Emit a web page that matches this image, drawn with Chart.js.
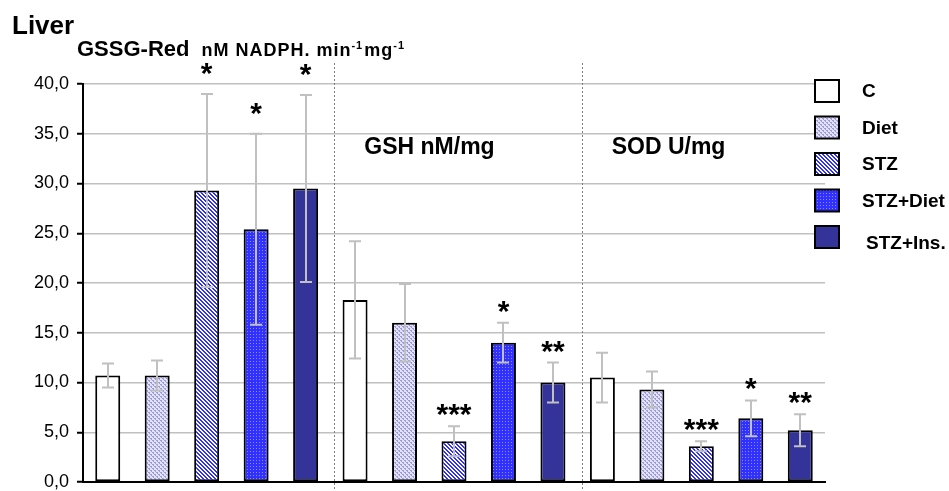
<!DOCTYPE html>
<html>
<head>
<meta charset="utf-8">
<script src="https://cdn.jsdelivr.net/npm/chart.js@4.4.1/dist/chart.umd.min.js"></script>
<style>
  html, body { margin: 0; padding: 0; background: #fff; }
  #wrap { width: 949px; height: 491px; position: relative; }
</style>
</head>
<body>
<div id="wrap"><canvas id="c"></canvas></div>
<script>
// ---- data ----
const categories = ['GSSG-Red', 'GSH', 'SOD'];
const seriesNames = ['C', 'Diet', 'STZ', 'STZ+Diet', 'STZ+Ins.'];

const valuesC       = [10.7, 18.3, 10.5];
const valuesDiet    = [10.7, 16.0, 9.3];
const valuesSTZ     = [29.3, 4.1, 3.6];
const valuesSTZDiet = [25.4, 14.0, 6.4];
const valuesSTZIns  = [29.5, 10.0, 5.2];

const errC       = [1.2, 5.9, 2.5];
const errDiet    = [1.5, 3.9, 1.8];
const errSTZ     = [9.7, 1.5, 0.5];
const errSTZDiet = [9.6, 2.0, 1.8];
const errSTZIns  = [9.4, 2.0, 1.6];

const starsC       = ['', '', ''];
const starsDiet    = ['', '', ''];
const starsSTZ     = ['*', '***', '***'];
const starsSTZDiet = ['*', '*', '*'];
const starsSTZIns  = ['*', '**', '**'];

const yMin = 0, yMax = 40, yStep = 5;

const chartTitle = 'Liver';
const groupTitles = ['GSSG-Red', 'GSH nM/mg', 'SOD U/mg'];
const firstGroupUnit = ['nM NADPH. min', '-1', 'mg', '-1'];

// ---- patterns ----
function makePattern(size, painter) {
  const cv = document.createElement('canvas');
  cv.width = size; cv.height = size;
  const g = cv.getContext('2d');
  painter(g, size);
  return document.getElementById('c').getContext('2d').createPattern(cv, 'repeat');
}
const fillC = '#ffffff';
const fillDiet = makePattern(4, (g) => {
  g.fillStyle = '#e2e2f8'; g.fillRect(0, 0, 4, 4);
  g.fillStyle = '#9a9adc';
  g.fillRect(0, 0, 2, 1); g.fillRect(2, 2, 2, 1);
  g.fillRect(1, 1, 1, 1); g.fillRect(3, 3, 1, 1);
});
const fillSTZ = makePattern(4, (g) => {
  g.fillStyle = '#ffffff'; g.fillRect(0, 0, 4, 4);
  g.fillStyle = '#2e2eff';
  for (let x = 0; x < 4; x++) for (let y = 0; y < 4; y++) {
    if (((x - y) % 4 + 4) % 4 < 2) g.fillRect(x, y, 1, 1);
  }
});
const fillSTZDiet = makePattern(3, (g) => {
  g.fillStyle = '#3030ff'; g.fillRect(0, 0, 3, 3);
  g.fillStyle = '#8c8cff'; g.fillRect(1, 1, 1, 1);
});
const fillSTZIns = '#333399';

const fills = [fillC, fillDiet, fillSTZ, fillSTZDiet, fillSTZIns];
const valueSets = [valuesC, valuesDiet, valuesSTZ, valuesSTZDiet, valuesSTZIns];
const errSets = [errC, errDiet, errSTZ, errSTZDiet, errSTZIns];
const starSets = [starsC, starsDiet, starsSTZ, starsSTZDiet, starsSTZIns];

const FONT = '"Liberation Sans", Arial, sans-serif';

const decor = {
  id: 'decor',
  beforeDatasetsDraw(chart) {
    const ctx = chart.ctx, x = chart.scales.x, a = chart.chartArea;
    ctx.save();
    ctx.strokeStyle = '#808080';
    ctx.lineWidth = 1;
    ctx.setLineDash([2, 2]);
    for (let i = 0; i < categories.length - 1; i++) {
      const bx = Math.round((x.getPixelForValue(i) + x.getPixelForValue(i + 1)) / 2 + 4) + 0.5;
      ctx.beginPath();
      ctx.moveTo(bx, a.top - 21);
      ctx.lineTo(bx, a.bottom + 7);
      ctx.stroke();
    }
    ctx.restore();
  },
  afterDatasetsDraw(chart) {
    const ctx = chart.ctx, y = chart.scales.y;
    ctx.save();
    // error bars
    ctx.strokeStyle = '#c0c0c0';
    ctx.lineWidth = 2;
    valueSets.forEach((vals, d) => {
      const meta = chart.getDatasetMeta(d);
      vals.forEach((v, i) => {
        const bx = Math.round(meta.data[i].x);
        const top = y.getPixelForValue(v + errSets[d][i]);
        const bot = y.getPixelForValue(v - errSets[d][i]);
        ctx.beginPath();
        ctx.moveTo(bx, top); ctx.lineTo(bx, bot);
        ctx.moveTo(bx - 6, top); ctx.lineTo(bx + 6, top);
        ctx.moveTo(bx - 6, bot); ctx.lineTo(bx + 6, bot);
        ctx.stroke();
      });
    });
    // significance stars
    ctx.fillStyle = '#000';
    ctx.font = 'bold 30px ' + FONT;
    ctx.textAlign = 'center';
    ctx.textBaseline = 'alphabetic';
    starSets.forEach((stars, d) => {
      const meta = chart.getDatasetMeta(d);
      stars.forEach((s, i) => {
        if (!s) return;
        const bx = meta.data[i].x;
        const top = y.getPixelForValue(valueSets[d][i] + errSets[d][i]);
        ctx.fillText(s, bx, top - (i === 0 ? 11 : 2));
      });
    });
    ctx.restore();
  },
  afterDraw(chart) {
    const ctx = chart.ctx, x = chart.scales.x, y = chart.scales.y, a = chart.chartArea;
    ctx.save();
    ctx.fillStyle = '#000';
    ctx.textAlign = 'left';
    ctx.textBaseline = 'alphabetic';
    // main title
    ctx.font = 'bold 26px ' + FONT;
    ctx.fillText(chartTitle, 12, 34);
    // first group title with unit
    ctx.font = 'bold 22px ' + FONT;
    ctx.fillText(groupTitles[0], 77, 56);
    let cx = 77 + ctx.measureText(groupTitles[0]).width + 12;
    ctx.letterSpacing = '1px';
    firstGroupUnit.forEach((part, k) => {
      const sup = k % 2 === 1;
      ctx.font = 'bold ' + (sup ? 11 : 18) + 'px ' + FONT;
      ctx.fillText(part, cx, sup ? 49 : 56);
      cx += ctx.measureText(part).width + (sup ? 1 : 0);
    });
    ctx.letterSpacing = '0px';
    // other group titles
    ctx.font = 'bold 23px ' + FONT;
    for (let i = 1; i < categories.length; i++) {
      const bx = (x.getPixelForValue(i - 1) + x.getPixelForValue(i)) / 2 + 4;
      ctx.fillText(groupTitles[i], bx + 30, y.getPixelForValue(33));
    }
    // legend
    const lx = a.right - 10;
    ctx.font = 'bold 19px ' + FONT;
    ctx.textBaseline = 'middle';
    seriesNames.forEach((name, d) => {
      const ly = 80 + d * 36.5;
      ctx.fillStyle = fills[d];
      ctx.fillRect(lx, ly, 24, 22);
      ctx.strokeStyle = '#000';
      ctx.lineWidth = 2;
      ctx.strokeRect(lx, ly, 24, 22);
      ctx.fillStyle = '#000';
      ctx.fillText(name, lx + 47 + (d === 4 ? 4 : 0), ly + 12 + (d === 4 ? 6 : 0));
    });
    ctx.restore();
  }
};

const datasets = seriesNames.map((name, d) => ({
  label: name,
  data: valueSets[d],
  backgroundColor: fills[d],
  borderColor: '#000',
  borderWidth: 2,
  borderSkipped: false,
  categoryPercentage: 1.0,
  barPercentage: 0.505
}));

new Chart(document.getElementById('c'), {
  type: 'bar',
  data: { labels: categories, datasets },
  options: {
    responsive: true,
    maintainAspectRatio: false,
    animation: false,
    layout: { padding: { top: 84, right: 124, bottom: 9, left: 0 } },
    plugins: { legend: { display: false }, tooltip: { enabled: false }, title: { display: false } },
    scales: {
      x: {
        grid: { display: false },
        ticks: { display: false },
        border: { display: true, color: '#000', width: 2 },
        afterFit(s) { s.height = 0; s.paddingLeft = 0; s.paddingRight = 0; }
      },
      y: {
        min: yMin, max: yMax,
        ticks: {
          stepSize: yStep,
          color: '#000',
          padding: 8,
          font: { family: FONT, size: 18 },
          callback: (v) => Number(v).toFixed(1).replace('.', ',')
        },
        grid: { color: '#c0c0c0', lineWidth: 1.5, tickColor: '#000', tickWidth: 2, tickLength: 6, drawTicks: true },
        border: { display: true, color: '#000', width: 2 },
        afterFit(s) { s.width = 83; s.paddingTop = 0; s.paddingBottom = 0; }
      }
    }
  },
  plugins: [decor]
});
</script>
</body>
</html>
